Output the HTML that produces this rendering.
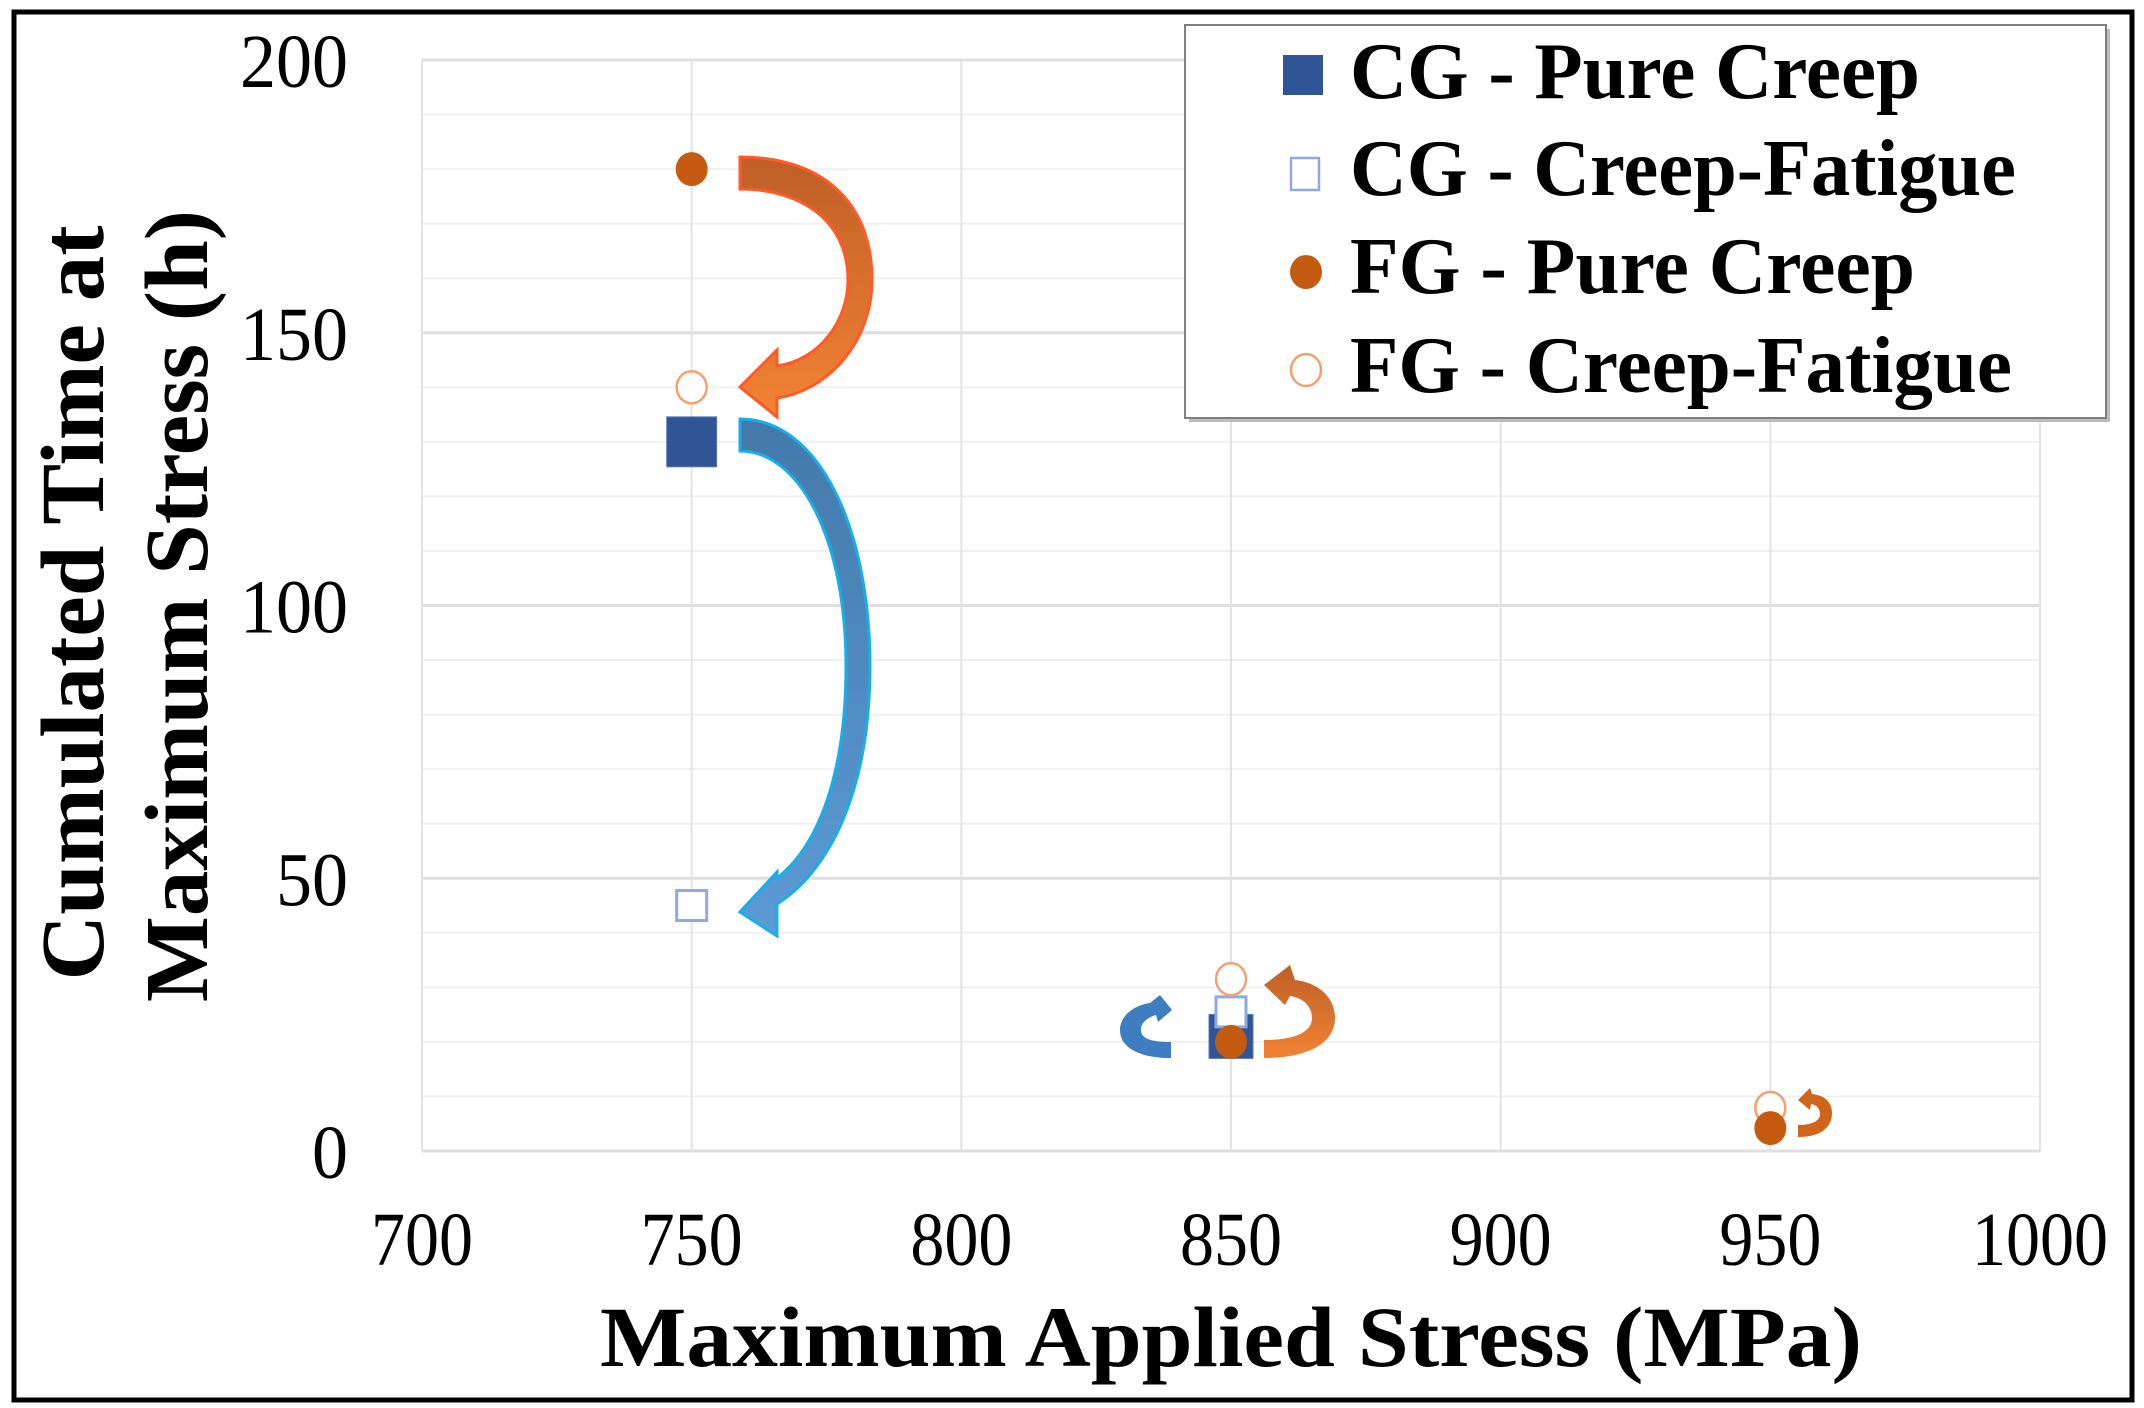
<!DOCTYPE html>
<html><head><meta charset="utf-8">
<style>
html,body{margin:0;padding:0;background:#fff;}
svg{display:block;}
text{font-family:"Liberation Serif",serif;}
</style></head>
<body>
<svg id="chart" width="2144" height="1408" viewBox="0 0 2144 1408" xmlns="http://www.w3.org/2000/svg">
<defs>
<linearGradient id="og" x1="0" y1="0" x2="0" y2="1"><stop offset="0" stop-color="#BE5F26"/><stop offset="1" stop-color="#F28334"/></linearGradient>
<linearGradient id="bg" x1="0" y1="0" x2="0" y2="1"><stop offset="0" stop-color="#4479AA"/><stop offset="1" stop-color="#5B9BD5"/></linearGradient>
</defs>
<rect x="14" y="12" width="2118" height="1388" fill="#fff" stroke="#000" stroke-width="5"/>
<g id="grid"></g>
<g id="ticks"></g>
<g>
<path d="M740,157 C820,157 872,200 872,280 C872,340 830,390 777,398 L777,417 L740,387 L777,350 L777,366 C820,360 848,320 848,280 C848,220 800,189 740,189 Z" fill="url(#og)" stroke="#FF5A28" stroke-width="3"/>
<path d="M740,419 C820,419 870,530 870,666 C870,790 830,870 777,904 L777,936 L740,912 L777,872 L777,878 C820,845 846,770 846,666 C846,540 800,451 740,451 Z" fill="url(#bg)" stroke="#19AEE8" stroke-width="3"/>
<path d="M1171,1058 C1140,1058 1120,1048 1120,1030 C1120,1015 1135,1005 1150,1003 L1160,995 L1172,1010 L1158,1022 L1156,1015 C1146,1018 1140,1024 1141,1031 C1142,1040 1155,1042 1171,1042 Z" fill="#3E7DC0"/>
<path d="M1264,1058 C1310,1058 1335,1042 1335,1018 C1335,995 1315,982 1295,980 L1290,965 L1264,985 L1285,1005 L1290,996 C1303,998 1312,1006 1312,1018 C1312,1032 1295,1040 1264,1040 Z" fill="url(#og)"/>
<path d="M1798,1137 C1820,1137 1832,1128 1832,1113 C1832,1100 1822,1095 1812,1094 L1810,1088 L1798,1100 L1810,1110 L1811,1104 C1817,1105 1820,1109 1820,1114 C1820,1121 1812,1125 1798,1125 Z" fill="#D06418"/>
</g>
<g id="marks"></g>
<text x="1231" y="1366" text-anchor="middle" font-size="86" font-weight="bold" textLength="1262" lengthAdjust="spacingAndGlyphs">Maximum Applied Stress (MPa)</text>
<text transform="translate(103,603) rotate(-90)" text-anchor="middle" font-size="90" font-weight="bold" textLength="755" lengthAdjust="spacingAndGlyphs">Cumulated Time at</text>
<text transform="translate(207,606) rotate(-90)" text-anchor="middle" font-size="90" font-weight="bold" textLength="792" lengthAdjust="spacingAndGlyphs">Maximum Stress (h)</text>
<g>
<rect x="1189" y="29" width="921" height="393" fill="#bdbdbd"/>
<rect x="1185" y="25" width="921" height="393" fill="#fff" stroke="#7f7f7f" stroke-width="2"/>
<g>
<rect x="1283" y="55" width="40" height="40" fill="#2F5597"/>
<text x="1350" y="98" font-size="80" font-weight="bold" textLength="570" lengthAdjust="spacingAndGlyphs">CG - Pure Creep</text></g>
<g>
<rect x="1291" y="158" width="28" height="32" fill="none" stroke="#8FAADC" stroke-width="2.5"/>
<text x="1350" y="195" font-size="80" font-weight="bold" textLength="666" lengthAdjust="spacingAndGlyphs">CG - Creep-Fatigue</text></g>
<g>
<ellipse cx="1306" cy="272" rx="16" ry="17" fill="#C55A11"/>
<text x="1350" y="293" font-size="80" font-weight="bold" textLength="565" lengthAdjust="spacingAndGlyphs">FG - Pure Creep</text></g>
<g>
<ellipse cx="1306" cy="370" rx="15" ry="16" fill="none" stroke="#F4A070" stroke-width="2.5"/>
<text x="1350" y="392" font-size="80" font-weight="bold" textLength="662" lengthAdjust="spacingAndGlyphs">FG - Creep-Fatigue</text></g>
</g>
</svg>
<script>
const xTicks = [700, 750, 800, 850, 900, 950, 1000];
const yTicks = [0, 50, 100, 150, 200];
const yMinor = [10,20,30,40,60,70,80,90,110,120,130,140,160,170,180,190];
const cgPureX = [750, 850];
const cgPureY = [130, 21];
const cgCfX = [750, 850];
const cgCfY = [45, 25.5];
const fgPureX = [750, 850, 950];
const fgPureY = [180, 20, 4.2];
const fgCfX = [750, 850, 950];
const fgCfY = [140, 31.5, 7.9];

const NS = 'http://www.w3.org/2000/svg';
const L = 422, R = 2040, T = 60, B = 1151;
function sx(v){ return L + (v - 700) / 300 * (R - L); }
function sy(v){ return B - v / 200 * (B - T); }
function mk(tag, attrs, parent){ const e = document.createElementNS(NS, tag); for (const k in attrs) e.setAttribute(k, attrs[k]); parent.appendChild(e); return e; }
const grid = document.getElementById('grid');
const ticks = document.getElementById('ticks');
const marks = document.getElementById('marks');
yMinor.forEach(v => {
  const l = mk('line', {x1:L, x2:R, y1:sy(v), y2:sy(v), stroke:'#f0f0f0', 'stroke-width':2}, grid);
  
  
});
yTicks.forEach(v => {
  const l = mk('line', {x1:L, x2:R, y1:sy(v), y2:sy(v), stroke:'#dedede', 'stroke-width':3}, grid);
  
  
  const t = mk('text', {x:348, y:sy(v)+27, 'text-anchor':'end', 'font-size':76, textLength: String(v).length*36, lengthAdjust:'spacingAndGlyphs'}, ticks);
  t.textContent = v;
  
  
});
xTicks.forEach(v => {
  const l = mk('line', {x1:sx(v), x2:sx(v), y1:T, y2:B, stroke:'#e3e3e3', 'stroke-width':2}, grid);
  
  
  const t = mk('text', {x:sx(v), y:1265, 'text-anchor':'middle', 'font-size':76, textLength: String(v).length*34, lengthAdjust:'spacingAndGlyphs'}, ticks);
  t.textContent = v;
  
  
});
cgPureX.forEach((x, i) => {
  const s = x === 750 ? 50 : 44;
  const r = mk('rect', {x:sx(x)-s/2, y:sy(cgPureY[i])-s/2, width:s, height:s, fill:'#2F5597', stroke:'#5A7BB5', 'stroke-width':1}, marks);
  
  
});
cgCfX.forEach((x, i) => {
  const r = mk('rect', {x:sx(x)-15, y:sy(cgCfY[i])-15, width:30, height:30, fill:'#fff', stroke:'#8FAADC', 'stroke-width':3}, marks);
  
  
});
fgCfX.forEach((x, i) => {
  const c = mk('ellipse', {cx:sx(x), cy:sy(fgCfY[i]), rx:15, ry:16, fill:'#fff', stroke:'#F4A070', 'stroke-width':2.5}, marks);
  
  
});
fgPureX.forEach((x, i) => {
  const c = mk('ellipse', {cx:sx(x), cy:sy(fgPureY[i]), rx:16, ry:17, fill:'#C55A11'}, marks);
  
  
});
</script>
</body></html>
